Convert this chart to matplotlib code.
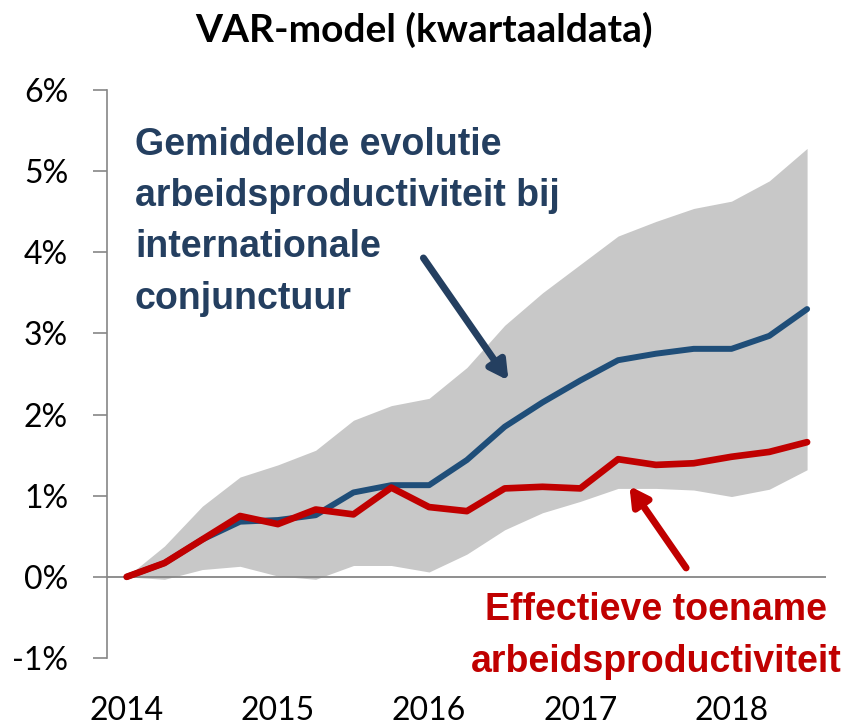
import numpy as np
import matplotlib
matplotlib.use("Agg")
import matplotlib.pyplot as plt
from matplotlib import font_manager

# quarterly data, 2014Q1 .. 2018Q3 (in %)
quarters = np.arange(19)
year_labels = ['2014', '2015', '2016', '2017', '2018']
year_pos = [0, 4, 8, 12, 16]

gemiddeld = [0.00, 0.17, 0.46, 0.68, 0.70, 0.76, 1.04, 1.13, 1.13, 1.44,
             1.85, 2.15, 2.42, 2.67, 2.75, 2.81, 2.81, 2.97, 3.30]
effectief = [0.00, 0.17, 0.46, 0.75, 0.65, 0.83, 0.77, 1.10, 0.86, 0.81,
             1.09, 1.11, 1.09, 1.45, 1.38, 1.40, 1.48, 1.54, 1.66]
band_hoog = [0.00, 0.38, 0.87, 1.23, 1.38, 1.56, 1.93, 2.11, 2.20, 2.58,
             3.10, 3.50, 3.85, 4.20, 4.38, 4.54, 4.63, 4.88, 5.28]
band_laag = [0.00, -0.03, 0.09, 0.13, 0.01, -0.03, 0.14, 0.14, 0.06, 0.28,
             0.58, 0.79, 0.93, 1.09, 1.09, 1.07, 0.99, 1.08, 1.32]

names = {f.name for f in font_manager.fontManager.ttflist}
base_font = 'Lato' if 'Lato' in names else 'DejaVu Sans'
note_font = 'Liberation Sans'

blauw = '#1F4E79'
blauw_txt = '#243F60'
rood = '#C00000'
grijs_as = '#868686'

fig = plt.figure(figsize=(8.48, 7.24), dpi=100)
ax = fig.add_axes([107/848, 1 - 658/724, (826-107)/848, (658-90)/724])

ax.fill_between(quarters, band_laag, band_hoog, color='#C8C8C8', lw=0, zorder=1)
ax.axhline(0, color=grijs_as, lw=1.3, zorder=2)
ax.plot(quarters, gemiddeld, color=blauw, lw=4.3, solid_capstyle='round', zorder=3)
ax.plot(quarters, effectief, color=rood, lw=4.8, solid_capstyle='round', zorder=4)

ax.set_xlim(-0.52, 18.5)
ax.set_ylim(-1, 6)
ax.set_yticks(range(-1, 7))
ax.set_yticklabels([f'{v}%' for v in range(-1, 7)], fontsize=23, family=base_font)
ax.set_xticks(year_pos)
ax.set_xticklabels(year_labels, fontsize=23, family=base_font)
ax.tick_params(axis='x', length=0, pad=27)
ax.tick_params(axis='y', length=10, width=1.2, color=grijs_as, pad=18)
for s in ['top', 'right', 'bottom']:
    ax.spines[s].set_visible(False)
ax.spines['left'].set_color(grijs_as)
ax.spines['left'].set_linewidth(1.2)

fig.text(0.5, 1 - 30/724, 'VAR-model (kwartaaldata)', ha='center', va='center',
         fontsize=28, fontweight='bold', family=base_font)

ax.text(0.22, 5.55, 'Gemiddelde evolutie\narbeidsproductiviteit bij\ninternationale\nconjunctuur',
        ha='left', va='top', fontsize=27, fontweight='bold', color=blauw_txt,
        family=note_font, linespacing=1.55, zorder=5)
ax.text(14.0, -0.19, 'Effectieve toename\narbeidsproductiviteit',
        ha='center', va='top', fontsize=27, fontweight='bold', color=rood,
        family=note_font, linespacing=1.55, zorder=5, clip_on=False)

ax.annotate('', xy=(10.1, 2.42), xytext=(7.85, 3.93),
            arrowprops=dict(arrowstyle='-|>,head_length=1.1,head_width=0.6',
                            color=blauw_txt, lw=5, shrinkA=0, shrinkB=0), zorder=6)
ax.annotate('', xy=(13.3, 1.12), xytext=(14.8, 0.11),
            arrowprops=dict(arrowstyle='-|>,head_length=1.1,head_width=0.6',
                            color=rood, lw=5, shrinkA=0, shrinkB=0), zorder=6)

fig.savefig('out.png', dpi=100)
